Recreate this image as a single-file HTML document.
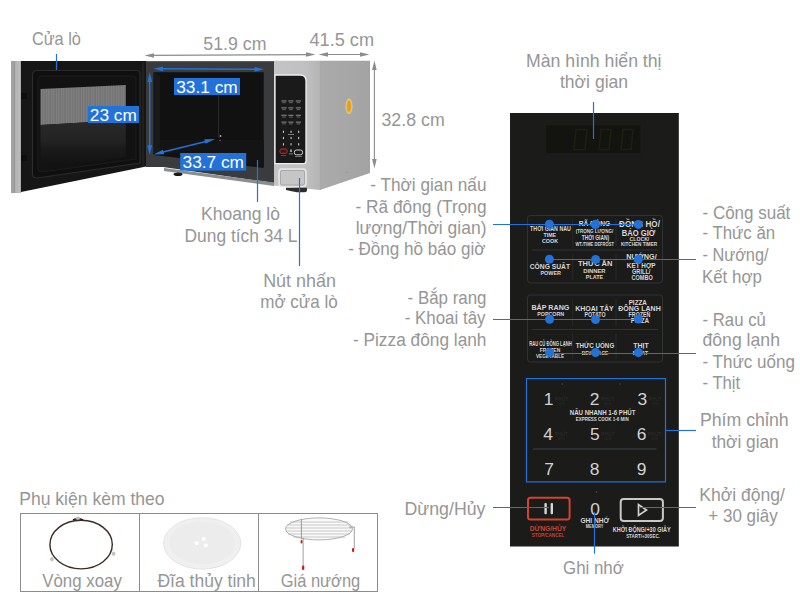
<!DOCTYPE html>
<html><head><meta charset="utf-8">
<style>
html,body{margin:0;padding:0;background:#fff;}
body{width:800px;height:600px;position:relative;overflow:hidden;}
svg{position:absolute;left:0;top:0;font-family:"Liberation Sans",sans-serif;}
</style></head>
<body>
<svg width="800" height="600" viewBox="0 0 800 600">
<defs>
  <linearGradient id="silv" x1="0" x2="1" y1="0" y2="0">
    <stop offset="0" stop-color="#a4a4a4"/><stop offset="0.28" stop-color="#a0a0a0"/><stop offset="0.33" stop-color="#8a8c8c"/><stop offset="0.4" stop-color="#b2b2b2"/><stop offset="0.9" stop-color="#bcbcbc"/><stop offset="1" stop-color="#9a9a9a"/>
  </linearGradient>
  <pattern id="mesh" width="2.5" height="10" patternUnits="userSpaceOnUse">
    <rect width="2.4" height="10" fill="#848484"/><rect width="0.9" height="10" fill="#727272"/>
  </pattern>
  <linearGradient id="refl" x1="0" x2="0" y1="0" y2="1">
    <stop offset="0" stop-color="#2a2a2a"/><stop offset="0.45" stop-color="#222"/><stop offset="0.6" stop-color="#1a1a1a"/><stop offset="1" stop-color="#111"/>
  </linearGradient>
  <linearGradient id="side" x1="0" x2="1" y1="0" y2="0">
    <stop offset="0" stop-color="#ababab"/><stop offset="1" stop-color="#a3a3a3"/>
  </linearGradient>
  <linearGradient id="front" x1="0" x2="1" y1="0" y2="0">
    <stop offset="0" stop-color="#c4c4c6"/><stop offset="0.7" stop-color="#c0c0c2"/><stop offset="1" stop-color="#b4b4b4"/>
  </linearGradient>
</defs>
<!-- door -->
<polygon points="11,61 21,61 21,193 11,193" fill="url(#silv)"/>
<polygon points="21,61 146,61 146,166.5 21,192" fill="#161616"/>
<line x1="143" y1="62" x2="143" y2="167" stroke="#2a2a2a" stroke-width="1"/>
<path d="M37,70.5 H137 Q140,70.5 140,74 V163 L37,178 Q32.5,178 32.5,174 V75 Q32.5,70.5 37,70.5 Z" fill="#0f0f0f" stroke="#2c2c2c" stroke-width="1.2"/>
<path d="M42,76 H133 Q136,76 136,79 V159 L42,172 Q38,172 38,169 V79 Q38,76 42,76 Z" fill="#121212" stroke="#1c1c1c" stroke-width="1"/>
<polygon points="40.5,89 125.8,85 125.8,120 40.5,125" fill="url(#mesh)"/>
<polygon points="40.5,125 125.8,120 125.8,157 40.5,168" fill="url(#refl)"/>
<rect x="21" y="93" width="6" height="6" rx="1" fill="#0d0d0d"/>
<rect x="21" y="155" width="6" height="6" rx="1" fill="#0d0d0d"/>
<!-- cavity -->
<polygon points="146,61 274,61 274,183 163,167 146,167" fill="#3a3b3d"/>
<line x1="146" y1="61.5" x2="274" y2="61.5" stroke="#5a5a5a" stroke-width="1"/>
<polygon points="153.5,72.3 263.7,72.3 263.7,168 153.5,155" fill="#111"/>
<polygon points="153.5,72.3 160,76 160,152 153.5,155" fill="#191919"/>
<polygon points="160,140 263.7,140 263.7,166 160,152" fill="#141414"/>
<circle cx="220.5" cy="136" r="0.9" fill="#aaa"/><circle cx="220" cy="140.5" r="0.7" fill="#777"/>
<line x1="218.6" y1="95" x2="218.6" y2="138" stroke="#2a2a2a" stroke-width="1"/>
<polygon points="164,168 274,182.5 274,186 164,171" fill="#8a8e8e"/>
<ellipse cx="178" cy="174.3" rx="4.5" ry="1.8" fill="#1a1a1a"/>
<!-- front panel -->
<polygon points="274,60.8 320,60.8 320,190 274,185.5" fill="url(#front)"/>
<path d="M275,75 H300 Q306,75 306,81 V161 Q306,163.6 303.5,163.6 H275 Z" fill="#1a1a1a" stroke="#eeeeee" stroke-width="1.3"/>
<g fill="#8a8a8a">
<rect x="281.4" y="100.3" width="5.2" height="1.3" opacity="0.8"/><rect x="282.2" y="102.1" width="3.6" height="1.1" opacity="0.6"/>
<rect x="288.3" y="100.3" width="5.2" height="1.3" opacity="0.8"/><rect x="289.1" y="102.1" width="3.6" height="1.1" opacity="0.6"/>
<rect x="295.8" y="100.3" width="5.2" height="1.3" opacity="0.8"/><rect x="296.6" y="102.1" width="3.6" height="1.1" opacity="0.6"/>
<rect x="281.4" y="107.2" width="5.2" height="1.3" opacity="0.8"/><rect x="282.2" y="109.0" width="3.6" height="1.1" opacity="0.6"/>
<rect x="288.3" y="107.2" width="5.2" height="1.3" opacity="0.8"/><rect x="289.1" y="109.0" width="3.6" height="1.1" opacity="0.6"/>
<rect x="295.8" y="107.2" width="5.2" height="1.3" opacity="0.8"/><rect x="296.6" y="109.0" width="3.6" height="1.1" opacity="0.6"/>
<rect x="281.4" y="114.7" width="5.2" height="1.3" opacity="0.8"/><rect x="282.2" y="116.5" width="3.6" height="1.1" opacity="0.6"/>
<rect x="288.3" y="114.7" width="5.2" height="1.3" opacity="0.8"/><rect x="289.1" y="116.5" width="3.6" height="1.1" opacity="0.6"/>
<rect x="295.8" y="114.7" width="5.2" height="1.3" opacity="0.8"/><rect x="296.6" y="116.5" width="3.6" height="1.1" opacity="0.6"/>
<rect x="281.4" y="121.5" width="5.2" height="1.3" opacity="0.8"/><rect x="282.2" y="123.3" width="3.6" height="1.1" opacity="0.6"/>
<rect x="288.3" y="121.5" width="5.2" height="1.3" opacity="0.8"/><rect x="289.1" y="123.3" width="3.6" height="1.1" opacity="0.6"/>
<rect x="295.8" y="121.5" width="5.2" height="1.3" opacity="0.8"/><rect x="296.6" y="123.3" width="3.6" height="1.1" opacity="0.6"/>
</g>
<g fill="#c8c8c8">
<rect x="282.9" y="130.7" width="1.1" height="2.2"/>
<rect x="290.5" y="130.7" width="1.1" height="2.2"/>
<rect x="298.1" y="130.7" width="1.1" height="2.2"/>
<rect x="282.9" y="136.9" width="1.1" height="2.2"/>
<rect x="290.5" y="136.9" width="1.1" height="2.2"/>
<rect x="298.1" y="136.9" width="1.1" height="2.2"/>
<rect x="282.9" y="143.2" width="1.1" height="2.2"/>
<rect x="290.5" y="143.2" width="1.1" height="2.2"/>
<rect x="298.1" y="143.2" width="1.1" height="2.2"/>
</g>
<rect x="288" y="134" width="6" height="0.9" fill="#888"/>
<rect x="280" y="149" width="7" height="4.3" rx="1.5" fill="#3a1515" stroke="#c03030" stroke-width="1"/>
<rect x="281" y="155" width="5" height="0.9" fill="#a33"/>
<rect x="290.3" y="149.5" width="1.4" height="2.5" fill="#ccc"/><rect x="289" y="153.5" width="4" height="0.8" fill="#999"/>
<rect x="294.3" y="150" width="8.3" height="4.8" rx="2.2" fill="none" stroke="#cfcfcf" stroke-width="1"/><rect x="295" y="156" width="7" height="0.8" fill="#888"/>
<rect x="279" y="169" width="27" height="17.5" rx="3" fill="#c6c6c6" stroke="#e6e6e6" stroke-width="1.6"/>
<rect x="280.5" y="170.5" width="24" height="14.5" rx="2" fill="none" stroke="#9c9c9c" stroke-width="0.7"/>
<path d="M286,187.8 H307 V190.5 Q307,192.2 304.5,192.2 H297 Q292,191.2 286,190 Z" fill="#2c2c2c"/>
<!-- side -->
<polygon points="320,60.8 370,60.8 370,173 320,190" fill="url(#side)"/>
<line x1="320.3" y1="61" x2="320.3" y2="190" stroke="#a8a8a8" stroke-width="0.8"/>
<ellipse cx="349" cy="106.3" rx="3.6" ry="8" fill="#d8dcef" opacity="0.6"/><ellipse cx="349" cy="106.3" rx="2.8" ry="7.2" fill="#f2c21e"/><ellipse cx="349" cy="106.3" rx="1.8" ry="5.5" fill="#e49a2c"/>
<circle cx="347" cy="172.4" r="0.9" fill="#999"/>

<!-- dimension arrows gray -->
<g stroke="#8c8c8c" stroke-width="1.1" fill="#8c8c8c">
  <line x1="150" y1="55.4" x2="310" y2="54.6"/>
  <polygon points="144.5,55.5 154,53.2 154,57.8" stroke="none"/>
  <polygon points="315.5,54.5 306,52.2 306,56.8" stroke="none"/>
  <line x1="324" y1="54.5" x2="364" y2="54.5"/>
  <polygon points="318.5,54.5 328,52.2 328,56.8" stroke="none"/>
  <polygon points="369.5,54.5 360,52.2 360,56.8" stroke="none"/>
  <line x1="374.4" y1="66" x2="374.4" y2="163"/>
  <polygon points="374.4,60.5 372.1,70 376.7,70" stroke="none"/>
  <polygon points="374.4,168.5 372.1,159 376.7,159" stroke="none"/>
</g>
<!-- blue arrows on microwave -->
<g stroke="#2272da" stroke-width="1.4" fill="#2272da">
  <line x1="160" y1="68.8" x2="258" y2="69.3"/>
  <polygon points="153.5,68.8 163,66.4 163,71.2" stroke="none"/>
  <polygon points="264,69.3 254.5,66.9 254.5,71.7" stroke="none"/>
  <line x1="149.7" y1="78" x2="149.7" y2="149"/>
  <polygon points="149.7,72.3 147.3,82 152.1,82" stroke="none"/>
  <polygon points="149.7,155 147.3,145.3 152.1,145.3" stroke="none"/>
  <line x1="160" y1="152.8" x2="209" y2="140.7"/>
  <polygon points="153.5,154.5 163,149.7 164.2,154.3" stroke="none"/>
  <polygon points="215,139 205.5,143.8 204.3,139.2" stroke="none"/>
</g>

<!-- label boxes -->
<rect x="88" y="106" width="51" height="17" fill="#2272da"/>
<rect x="174" y="78" width="66" height="17" fill="#2272da"/>
<rect x="180.2" y="153" width="66" height="17.6" fill="#2272da"/>
<g fill="#fff" font-size="17.3" text-anchor="middle">
<text x="113.3" y="120.5">23 cm</text>
<text x="207" y="93">33.1 cm</text>
<text x="213.3" y="167.5">33.7 cm</text>
</g>

<!-- control panel -->
<rect x="510" y="113" width="168.8" height="433.5" fill="#1b1b1a"/>
<rect x="546.2" y="125.6" width="94.2" height="27.5" fill="#131410"/>
<g fill="none" stroke="#1f1f10" stroke-width="1.5"><path d="M576,129.5 H587 L585,149.5 H574 Z"/><path d="M601,129.5 H611 L609,149.5 H599 Z"/><path d="M623,129.5 H633 L631,149.5 H621 Z"/></g>
<g fill="none" stroke="#2f3338" stroke-width="1">
<rect x="527.5" y="215.5" width="135" height="67.5" rx="3"/>
<rect x="527.5" y="295" width="135" height="67" rx="3"/>
<line x1="532" y1="250" x2="658" y2="250"/>
<line x1="532" y1="329.5" x2="658" y2="329.5"/>
<g stroke="#272a2d">
<line x1="572.7" y1="219" x2="572.7" y2="246"/>
<line x1="616" y1="219" x2="616" y2="246"/>
<line x1="572.7" y1="254" x2="572.7" y2="280"/>
<line x1="616" y1="254" x2="616" y2="280"/>
<line x1="572.7" y1="299" x2="572.7" y2="326"/>
<line x1="616" y1="299" x2="616" y2="326"/>
<line x1="572.7" y1="333" x2="572.7" y2="359"/>
<line x1="616" y1="333" x2="616" y2="359"/>
</g>
</g>
<line x1="533" y1="449" x2="656.5" y2="449" stroke="#33373b" stroke-width="1.3"/>
<circle cx="562.3" cy="384" r="0.7" fill="#555"/><circle cx="620" cy="384" r="0.7" fill="#555"/>
<g font-family="Liberation Sans" font-size="6" font-weight="bold">
<text x="550.5" y="230.5" font-size="7.7" fill="#d8d8d8" text-anchor="middle" textLength="40.8" lengthAdjust="spacingAndGlyphs">THỜI GIAN NẤU</text>
<text x="549.8" y="236.75" font-size="5" fill="#d8d8d8" text-anchor="middle" textLength="12.5" lengthAdjust="spacingAndGlyphs">TIME</text>
<text x="550" y="243" font-size="5" fill="#d8d8d8" text-anchor="middle" textLength="16.2" lengthAdjust="spacingAndGlyphs">COOK</text>
<text x="594.5" y="225.6" font-size="7.7" fill="#d8d8d8" text-anchor="middle" textLength="31.5" lengthAdjust="spacingAndGlyphs">RÃ ĐÔNG</text>
<text x="594.5" y="232.5" font-size="6" fill="#d8d8d8" text-anchor="middle" textLength="37.5" lengthAdjust="spacingAndGlyphs">(TRỌNG LƯỢNG/</text>
<text x="595.5" y="240.3" font-size="6.5" fill="#d8d8d8" text-anchor="middle" textLength="27.5" lengthAdjust="spacingAndGlyphs">THỜI GIAN)</text>
<text x="594.7" y="246" font-size="5.3" fill="#d8d8d8" text-anchor="middle" textLength="38.5" lengthAdjust="spacingAndGlyphs">WT./TIME DEFROST</text>
<text x="639.5" y="227.2" font-size="8.5" fill="#d8d8d8" text-anchor="middle" textLength="40.8" lengthAdjust="spacingAndGlyphs">ĐỒNG HỒ/</text>
<text x="638.6" y="235.6" font-size="8.5" fill="#d8d8d8" text-anchor="middle" textLength="33.5" lengthAdjust="spacingAndGlyphs">BÁO GIỜ</text>
<text x="639.4" y="241.25" font-size="5.2" fill="#d8d8d8" text-anchor="middle" textLength="19.8" lengthAdjust="spacingAndGlyphs">CLOCK/</text>
<text x="639" y="246.25" font-size="5.3" fill="#d8d8d8" text-anchor="middle" textLength="36.2" lengthAdjust="spacingAndGlyphs">KITCHEN TIMER</text>
<text x="549.9" y="268.6" font-size="7.8" fill="#d8d8d8" text-anchor="middle" textLength="40.3" lengthAdjust="spacingAndGlyphs">CÔNG SUẤT</text>
<text x="550.7" y="274.5" font-size="6" fill="#d8d8d8" text-anchor="middle" textLength="20.5" lengthAdjust="spacingAndGlyphs">POWER</text>
<text x="595.2" y="266.1" font-size="7.5" fill="#d8d8d8" text-anchor="middle" textLength="34.5" lengthAdjust="spacingAndGlyphs">THỨC ĂN</text>
<text x="594.4" y="273.4" font-size="5.8" fill="#d8d8d8" text-anchor="middle" textLength="22.3" lengthAdjust="spacingAndGlyphs">DINNER</text>
<text x="594.5" y="279.3" font-size="5.8" fill="#d8d8d8" text-anchor="middle" textLength="17.5" lengthAdjust="spacingAndGlyphs">PLATE</text>
<text x="641.5" y="259.2" font-size="6.8" fill="#d8d8d8" text-anchor="middle" textLength="30.5" lengthAdjust="spacingAndGlyphs">NƯỚNG/</text>
<text x="641.2" y="267.8" font-size="7.5" fill="#d8d8d8" text-anchor="middle" textLength="28.8" lengthAdjust="spacingAndGlyphs">KẾT HỢP</text>
<text x="641.2" y="274.1" font-size="6.3" fill="#d8d8d8" text-anchor="middle" textLength="18.5" lengthAdjust="spacingAndGlyphs">GRILL/</text>
<text x="642.1" y="279.7" font-size="6.3" fill="#d8d8d8" text-anchor="middle" textLength="21.2" lengthAdjust="spacingAndGlyphs">COMBO</text>
<text x="550.4" y="309.8" font-size="7.5" fill="#d8d8d8" text-anchor="middle" textLength="37.9" lengthAdjust="spacingAndGlyphs">BẮP RANG</text>
<text x="550.7" y="316.1" font-size="6" fill="#d8d8d8" text-anchor="middle" textLength="27" lengthAdjust="spacingAndGlyphs">POPCORN</text>
<text x="594.4" y="311" font-size="7.5" fill="#d8d8d8" text-anchor="middle" textLength="38.5" lengthAdjust="spacingAndGlyphs">KHOAI TÂY</text>
<text x="595" y="317.3" font-size="6.3" fill="#d8d8d8" text-anchor="middle" textLength="21.2" lengthAdjust="spacingAndGlyphs">POTATO</text>
<text x="637.8" y="304.6" font-size="7.5" fill="#d8d8d8" text-anchor="middle" textLength="18.3" lengthAdjust="spacingAndGlyphs">PIZZA</text>
<text x="639.5" y="311" font-size="7.5" fill="#d8d8d8" text-anchor="middle" textLength="42.5" lengthAdjust="spacingAndGlyphs">ĐÔNG LẠNH</text>
<text x="639.5" y="317.3" font-size="6.3" fill="#d8d8d8" text-anchor="middle" textLength="21.8" lengthAdjust="spacingAndGlyphs">FROZEN</text>
<text x="640" y="323" font-size="6.3" fill="#d8d8d8" text-anchor="middle" textLength="18.5" lengthAdjust="spacingAndGlyphs">PIZZA</text>
<text x="550.4" y="345.5" font-size="6.5" fill="#d8d8d8" text-anchor="middle" textLength="42.5" lengthAdjust="spacingAndGlyphs">RAU CỦ ĐÔNG LẠNH</text>
<text x="550" y="352.4" font-size="5.8" fill="#d8d8d8" text-anchor="middle" textLength="20.5" lengthAdjust="spacingAndGlyphs">FROZEN</text>
<text x="550.1" y="357.6" font-size="5.2" fill="#d8d8d8" text-anchor="middle" textLength="28.2" lengthAdjust="spacingAndGlyphs">VEGETABLE</text>
<text x="595" y="348" font-size="7.8" fill="#d8d8d8" text-anchor="middle" textLength="38.5" lengthAdjust="spacingAndGlyphs">THỨC UỐNG</text>
<text x="595" y="354.7" font-size="6" fill="#d8d8d8" text-anchor="middle" textLength="26.5" lengthAdjust="spacingAndGlyphs">BEVERAGE</text>
<text x="641" y="348.4" font-size="7.5" fill="#d8d8d8" text-anchor="middle" textLength="15.5" lengthAdjust="spacingAndGlyphs">THỊT</text>
<text x="640.5" y="354.7" font-size="6" fill="#d8d8d8" text-anchor="middle" textLength="15.5" lengthAdjust="spacingAndGlyphs">MEAT</text>
<text x="602.6" y="415.4" font-size="7.1" fill="#d8d8d8" text-anchor="middle" textLength="65.7" lengthAdjust="spacingAndGlyphs">NẤU NHANH 1-6 PHÚT</text>
<text x="602.2" y="421" font-size="5.5" fill="#d8d8d8" text-anchor="middle" textLength="53" lengthAdjust="spacingAndGlyphs">EXPRESS COOK 1-6 MIN</text>
<text x="548" y="531" font-size="8" fill="#c64536" text-anchor="middle" textLength="36.5" lengthAdjust="spacingAndGlyphs">DỪNG/HỦY</text>
<text x="548" y="537" font-size="5.5" fill="#c64536" text-anchor="middle" textLength="32.5" lengthAdjust="spacingAndGlyphs">STOP/CANCEL</text>
<text x="594.8" y="523.2" font-size="6.5" fill="#d8d8d8" text-anchor="middle" textLength="28.7" lengthAdjust="spacingAndGlyphs">GHI NHỚ</text>
<text x="594.5" y="527.7" font-size="4.5" fill="#d8d8d8" text-anchor="middle" textLength="17.5" lengthAdjust="spacingAndGlyphs">MEMORY</text>
<text x="641.7" y="532.2" font-size="7" fill="#d8d8d8" text-anchor="middle" textLength="57.8" lengthAdjust="spacingAndGlyphs">KHỞI ĐỘNG/+30 GIÂY</text>
<text x="643" y="538.4" font-size="5.3" fill="#d8d8d8" text-anchor="middle" textLength="33.7" lengthAdjust="spacingAndGlyphs">START/+30SEC.</text>
</g>
<g fill="#3a3a3a"><text x="561.5" y="401.2" font-size="5" fill="#2e2e2e" text-anchor="middle">PHÚT</text><text x="561.5" y="405.2" font-size="4" fill="#2a2a2a" text-anchor="middle">MIN</text>
<text x="607.7" y="401.2" font-size="5" fill="#2e2e2e" text-anchor="middle">PHÚT</text><text x="607.7" y="405.2" font-size="4" fill="#2a2a2a" text-anchor="middle">MIN</text>
<text x="655.3" y="401.2" font-size="5" fill="#2e2e2e" text-anchor="middle">PHÚT</text><text x="655.3" y="405.2" font-size="4" fill="#2a2a2a" text-anchor="middle">MIN</text>
<text x="561.2" y="436" font-size="5" fill="#2e2e2e" text-anchor="middle">PHÚT</text><text x="561.2" y="440" font-size="4" fill="#2a2a2a" text-anchor="middle">MIN</text>
<text x="607.9" y="436" font-size="5" fill="#2e2e2e" text-anchor="middle">PHÚT</text><text x="607.9" y="440" font-size="4" fill="#2a2a2a" text-anchor="middle">MIN</text>
<text x="654.6" y="436" font-size="5" fill="#2e2e2e" text-anchor="middle">PHÚT</text><text x="654.6" y="440" font-size="4" fill="#2a2a2a" text-anchor="middle">MIN</text></g>
<g fill="#d2d2d2" font-size="17.4">
<text x="548.5" y="405.2" text-anchor="middle">1</text>
<text x="594.7" y="405.2" text-anchor="middle">2</text>
<text x="642.3" y="405.2" text-anchor="middle">3</text>
<text x="548.2" y="440" text-anchor="middle">4</text>
<text x="594.9" y="440" text-anchor="middle">5</text>
<text x="641.6" y="440" text-anchor="middle">6</text>
<text x="549" y="474.5" text-anchor="middle">7</text>
<text x="594.7" y="474.5" text-anchor="middle">8</text>
<text x="641.7" y="474.5" text-anchor="middle">9</text>
<text x="595.1" y="515.1" text-anchor="middle">0</text>
</g>
<rect x="528" y="497.8" width="41.6" height="21.6" rx="2.5" fill="none" stroke="#d2442f" stroke-width="2"/>
<rect x="544.4" y="503" width="2.4" height="11.2" rx="1" fill="#d8d8d8"/>
<rect x="550.6" y="503" width="2.4" height="11.2" rx="1" fill="#d8d8d8"/>
<rect x="620.7" y="499" width="42.2" height="22.1" rx="3" fill="none" stroke="#c8c8c8" stroke-width="2"/>
<polygon points="638.5,504.5 638.5,515.5 646.5,510" fill="none" stroke="#d0d0d0" stroke-width="1.7" stroke-linejoin="miter"/>
<circle cx="596.5" cy="492" r="0.8" fill="#555"/>

<!-- callout lines -->
<g stroke="#2272da" stroke-width="1.2" fill="none">
  <line x1="56.5" y1="54" x2="56.5" y2="70"/>
  <line x1="257.5" y1="160" x2="257.5" y2="202"/>
  <line x1="299.5" y1="178" x2="299.5" y2="266"/>
  <line x1="593.5" y1="102" x2="593.5" y2="139"/>
  <line x1="493" y1="224.5" x2="638" y2="224.5"/>
  <line x1="549.4" y1="259.5" x2="696" y2="259.5"/>
  <line x1="493" y1="319.5" x2="638" y2="319.5"/>
  <line x1="549.4" y1="353.5" x2="696" y2="353.5"/>
  <rect x="526.5" y="378.6" width="139" height="103.3"/>
  <line x1="665.5" y1="430.5" x2="696" y2="430.5"/>
  <line x1="493" y1="507.5" x2="549" y2="507.5"/>
  <line x1="640" y1="507.5" x2="696" y2="507.5"/>
  <line x1="594.5" y1="512" x2="594.5" y2="553.7"/>
</g>
<g fill="#2272da">
  <circle cx="549.4" cy="224.3" r="4.5"/><circle cx="595.4" cy="224.4" r="4.6"/><circle cx="638.4" cy="224.4" r="4.5"/>
  <circle cx="549.4" cy="259.2" r="4.5"/><circle cx="595.6" cy="259.4" r="4.5"/><circle cx="638.4" cy="259.4" r="4.5"/>
  <circle cx="549.6" cy="319.3" r="4.5"/><circle cx="595.5" cy="319.5" r="4.5"/><circle cx="638.4" cy="319" r="4.5"/>
  <circle cx="549.6" cy="352.6" r="4.5"/><circle cx="595.5" cy="352.5" r="4.5"/><circle cx="638.4" cy="352.5" r="4.5"/>
</g>

<!-- accessories table -->
<g fill="none" stroke="#8c8c8c" stroke-width="1">
  <rect x="20.5" y="513.5" width="357" height="78"/>
  <line x1="139.5" y1="513.5" x2="139.5" y2="591.5"/>
  <line x1="258.5" y1="513.5" x2="258.5" y2="591.5"/>
</g>
<ellipse cx="81.1" cy="544.6" rx="31.2" ry="24.3" fill="none" stroke="#3d2a25" stroke-width="1.4"/>
<path d="M73,520 Q78,517.5 83,520" fill="none" stroke="#2a1a15" stroke-width="1.5"/>
<g fill="#c8c8c8" stroke="#999" stroke-width="0.5"><ellipse cx="77.9" cy="518.3" rx="1.8" ry="1.2"/><ellipse cx="51.9" cy="559.2" rx="1.3" ry="1.8"/><ellipse cx="113.6" cy="553.8" rx="1.3" ry="1.8"/></g>
<ellipse cx="202.2" cy="543.4" rx="38.6" ry="25.7" fill="#f0f0f0" stroke="#dedede" stroke-width="0.8"/>
<ellipse cx="202.2" cy="542.8" rx="33" ry="21.5" fill="#ececec"/>
<g fill="#fff"><circle cx="196.6" cy="543.3" r="2.1"/><circle cx="203.7" cy="539.1" r="2"/><circle cx="205.8" cy="545.4" r="2"/></g>
<ellipse cx="319" cy="528.9" rx="33.5" ry="11" fill="#fafafa" stroke="#909090" stroke-width="0.7"/>
<g stroke="#a4a4a4" stroke-width="0.6" fill="none">
  <path d="M290,522 H348"/><path d="M287,525 H351"/><path d="M286,528 H352"/><path d="M286,531 H352"/><path d="M288,534 H350"/><path d="M293,537 H345"/>
</g>
<g stroke="#888" stroke-width="0.8" fill="none">
  <line x1="301.4" y1="519" x2="301.4" y2="539"/>
  <line x1="303.1" y1="538" x2="303.1" y2="566"/>
  <line x1="354.3" y1="527" x2="354.3" y2="548.5"/>
  <line x1="349" y1="527" x2="354.3" y2="527"/>
</g>
<g fill="#d21a1a"><rect x="302" y="565.5" width="2.3" height="4.5" rx="1"/><rect x="352" y="548" width="2.2" height="4" rx="1"/><rect x="300.6" y="540" width="1.8" height="3.5" rx="0.8"/></g>

<g fill="#969696" font-size="18.2">
<text id="g0" x="31.92" y="44.5" textLength="48.98" lengthAdjust="spacingAndGlyphs">Cửa lò</text>
<text id="g1" x="203.36" y="50.3" textLength="63.13" lengthAdjust="spacingAndGlyphs">51.9 cm</text>
<text id="g2" x="309.48" y="46" textLength="64.56" lengthAdjust="spacingAndGlyphs">41.5 cm</text>
<text id="g3" x="381.49" y="126" textLength="63.21" lengthAdjust="spacingAndGlyphs">32.8 cm</text>
<text id="g4" x="201.07" y="220" textLength="78.85" lengthAdjust="spacingAndGlyphs">Khoang lò</text>
<text id="g5" x="184.58" y="242" textLength="112.92" lengthAdjust="spacingAndGlyphs">Dung tích 34 L</text>
<text id="g6" x="263.18" y="287" textLength="72.73" lengthAdjust="spacingAndGlyphs">Nút nhấn</text>
<text id="g7" x="260.21" y="307.5" textLength="77.61" lengthAdjust="spacingAndGlyphs">mở cửa lò</text>
<text id="g8" x="526.07" y="66.6" textLength="135.47" lengthAdjust="spacingAndGlyphs">Màn hình hiển thị</text>
<text id="g9" x="559.97" y="88.4" textLength="68.08" lengthAdjust="spacingAndGlyphs">thời gian</text>
<text id="g10" x="370.30" y="190.75" textLength="116.20" lengthAdjust="spacingAndGlyphs">- Thời gian nấu</text>
<text id="g11" x="355.55" y="212.5" textLength="130.96" lengthAdjust="spacingAndGlyphs">- Rã đông (Trọng</text>
<text id="g12" x="355.64" y="233.75" textLength="130.87" lengthAdjust="spacingAndGlyphs">lượng/Thời gian)</text>
<text id="g13" x="348.13" y="255" textLength="137.37" lengthAdjust="spacingAndGlyphs">- Đồng hồ báo giờ</text>
<text id="g14" x="702.50" y="219" textLength="87.85" lengthAdjust="spacingAndGlyphs">- Công suất</text>
<text id="g15" x="702.49" y="239.4" textLength="72.65" lengthAdjust="spacingAndGlyphs">- Thức ăn</text>
<text id="g16" x="702.49" y="261" textLength="66.09" lengthAdjust="spacingAndGlyphs">- Nướng/</text>
<text id="g17" x="701.93" y="282.6" textLength="59.97" lengthAdjust="spacingAndGlyphs">Kết hợp</text>
<text id="g18" x="407.60" y="304.3" textLength="78.90" lengthAdjust="spacingAndGlyphs">- Bắp rang</text>
<text id="g19" x="404.69" y="324" textLength="80.82" lengthAdjust="spacingAndGlyphs">- Khoai tây</text>
<text id="g20" x="352.95" y="345.8" textLength="133.55" lengthAdjust="spacingAndGlyphs">- Pizza đông lạnh</text>
<text id="g21" x="702.49" y="325.8" textLength="63.41" lengthAdjust="spacingAndGlyphs">- Rau củ</text>
<text id="g22" x="702.50" y="345.8" textLength="77.44" lengthAdjust="spacingAndGlyphs">đông lạnh</text>
<text id="g23" x="702.50" y="368.3" textLength="92.47" lengthAdjust="spacingAndGlyphs">- Thức uống</text>
<text id="g24" x="702.50" y="389" textLength="37.67" lengthAdjust="spacingAndGlyphs">- Thịt</text>
<text id="g25" x="699.93" y="426" textLength="88.72" lengthAdjust="spacingAndGlyphs">Phím chỉnh</text>
<text id="g26" x="711.66" y="447.5" textLength="67.08" lengthAdjust="spacingAndGlyphs">thời gian</text>
<text id="g27" x="699.20" y="501.2" textLength="85.77" lengthAdjust="spacingAndGlyphs">Khởi động/</text>
<text id="g28" x="708.29" y="522.2" textLength="69.53" lengthAdjust="spacingAndGlyphs">+ 30 giây</text>
<text id="g29" x="404.56" y="514.5" textLength="80.94" lengthAdjust="spacingAndGlyphs">Dừng/Hủy</text>
<text id="g30" x="563.01" y="574" textLength="60.84" lengthAdjust="spacingAndGlyphs">Ghi nhớ</text>
<text id="g31" x="19.28" y="505" textLength="145.26" lengthAdjust="spacingAndGlyphs">Phụ kiện kèm theo</text>
<text id="g32" x="42.16" y="587" textLength="79.68" lengthAdjust="spacingAndGlyphs">Vòng xoay</text>
<text id="g33" x="157.38" y="587" textLength="98.46" lengthAdjust="spacingAndGlyphs">Đĩa thủy tinh</text>
<text id="g34" x="280.79" y="587" textLength="79.42" lengthAdjust="spacingAndGlyphs">Giá nướng</text>
</g>
</svg>
</body></html>
